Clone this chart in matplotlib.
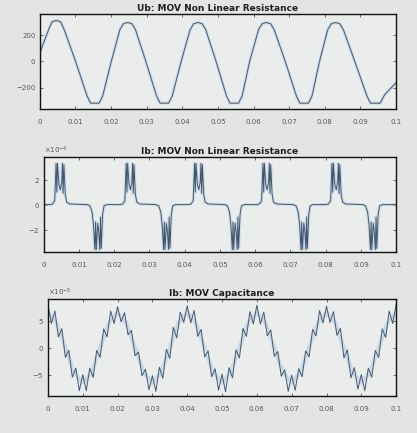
import numpy as np
import matplotlib
matplotlib.use("Agg")
import matplotlib.pyplot as plt

# Ub across the MOV (V): corner points of the clipped sine
ub_t = [0.0000, 0.0025, 0.0035, 0.0047, 0.0059, 0.0069, 0.0101, 0.0133, 0.0143, 0.0167, 0.0177,
        0.0201, 0.0225, 0.0235, 0.0247, 0.0259, 0.0269, 0.0298, 0.0328, 0.0338, 0.0362, 0.0372,
        0.0397, 0.0422, 0.0432, 0.0444, 0.0456, 0.0466, 0.0495, 0.0524, 0.0534, 0.0558, 0.0568,
        0.0589, 0.0614, 0.0624, 0.0636, 0.0648, 0.0658, 0.0689, 0.0720, 0.0730, 0.0754, 0.0764,
        0.0785, 0.0808, 0.0818, 0.0830, 0.0842, 0.0852, 0.0884, 0.0918, 0.0928, 0.0955, 0.0968,
        0.1000]
ub_v = [60, 240, 300, 310, 300, 240, 0, -260, -315, -315, -260,
        0, 240, 285, 295, 285, 240, 0, -260, -315, -315, -260,
        0, 240, 285, 295, 285, 240, 0, -260, -315, -315, -260,
        0, 240, 285, 295, 285, 240, 0, -260, -315, -315, -260,
        0, 240, 285, 295, 285, 240, 0, -260, -315, -315, -250,
        -160]

# Ib through the nonlinear resistance (x1e-4 A): pulse shapes and where they sit
pos_dt = [-0.0030, -0.0022, -0.0016, -0.0012, -0.0010, -0.0008, -0.0004, 0.0000,
          0.0004, 0.0006, 0.0008, 0.0010, 0.0014, 0.0018, 0.0026]
pos_v = [0.0, 0.05, 0.3, 3.3, 1.0, 3.3, 1.6, 1.2, 1.8, 3.3, 0.9, 3.2, 0.8, 0.2, 0.05]
neg_dt = [-0.0030, -0.0022, -0.0016, -0.0012, -0.0008, -0.0006, -0.0004, 0.0000,
          0.0003, 0.0006, 0.0008, 0.0010, 0.0014, 0.0018, 0.0026]
neg_v = [0.0, -0.1, -0.6, -1.6, -3.6, -1.4, -3.6, -1.5, -2.2, -3.6, -1.0, -3.5, -0.8, -0.1, 0.0]
pos_centres = [0.0047, 0.0246, 0.0440, 0.0634, 0.0830]
neg_centres = [0.0153, 0.0348, 0.0543, 0.0738, 0.0935]

# Ib through the MOV capacitance (x1e-5 A), one sample per ms
cap_v = [8.0, 4.5, 6.8, 2.0, 3.5, -1.8, -0.5, -5.5, -3.8, -8.0,
         -5.0, -8.0, -3.8, -5.5, -0.5, -1.8, 3.5, 2.0, 6.8, 4.5,
         7.6, 4.8, 6.5, 2.4, 3.2, -1.5, -0.8, -5.2, -4.0, -7.8,
         -5.2, -8.1, -3.6, -5.7, -0.3, -2.0, 3.8, 1.8, 6.6, 4.7,
         7.8, 4.6, 6.9, 2.1, 3.4, -1.7, -0.6, -5.4, -3.9, -7.9,
         -4.9, -8.2, -3.7, -5.6, -0.4, -1.9, 3.6, 2.1, 6.7, 4.4,
         7.9, 4.4, 6.6, 2.2, 3.3, -1.6, -0.7, -5.3, -4.1, -8.1,
         -5.1, -7.9, -3.9, -5.4, -0.6, -1.7, 3.4, 2.2, 6.9, 4.6,
         7.7, 4.7, 6.7, 2.3, 3.6, -1.9, -0.4, -5.6, -3.7, -7.7,
         -5.0, -8.0, -3.8, -5.5, -0.5, -1.8, 3.5, 1.9, 6.8, 4.5,
         8.0]
# smooth 50 Hz component of the same current, every 2.5 ms
cap_base = [6.5, 4.6, 0, -4.6, -6.5, -4.6, 0, 4.6] * 5 + [6.5]

x_ticks = [0, 0.01, 0.02, 0.03, 0.04, 0.05, 0.06, 0.07, 0.08, 0.09, 0.1]
x_labels = ["0", "0.01", "0.02", "0.03", "0.04", "0.05", "0.06", "0.07", "0.08", "0.09", "0.1"]

# build the pulse train for the resistive current
ir_t = [0.0]
ir_v = [0.0]
pulses = sorted([(c, pos_dt, pos_v) for c in pos_centres] + [(c, neg_dt, neg_v) for c in neg_centres])
for c, dts, vals in pulses:
    for d, v in zip(dts, vals):
        ir_t.append(c + d)
        ir_v.append(v * 1e-4)
ir_t.append(0.1)
ir_v.append(0.0)

cap_t = np.linspace(0, 0.1, len(cap_v))
cap_bt = np.linspace(0, 0.1, len(cap_base))

BG = "#e3e5e5"
FACE = "#ebeded"
HAZE = "#b8cde0"
LINE = "#43586f"

fig = plt.figure(figsize=(4.17, 4.33), dpi=100, facecolor=BG)
rects = [[0.095, 0.748, 0.855, 0.22],
         [0.105, 0.418, 0.845, 0.219],
         [0.115, 0.085, 0.835, 0.224]]
axs = [fig.add_axes(r) for r in rects]

axs[0].plot(ub_t, ub_v, color=HAZE, lw=2.2, alpha=0.6)
axs[0].plot(ub_t, ub_v, color=LINE, lw=0.7)
axs[0].set_ylim(-360, 360)
axs[0].set_yticks([-200, 0, 200])
axs[0].set_title("Ub: MOV Non Linear Resistance", fontsize=6.5, fontweight="bold", color="#1e1e1e", pad=2)

axs[1].plot(ir_t, ir_v, color=HAZE, lw=2.2, alpha=0.6)
axs[1].plot(ir_t, ir_v, color=LINE, lw=0.7)
axs[1].set_ylim(-3.8e-4, 3.8e-4)
axs[1].set_yticks([-2e-4, 0, 2e-4])
axs[1].set_title("Ib: MOV Non Linear Resistance", fontsize=6.5, fontweight="bold", color="#1e1e1e", pad=2)

axs[2].plot(cap_bt, np.array(cap_base) * 1e-5, color=HAZE, lw=3.0, alpha=0.6)
axs[2].plot(cap_t, np.array(cap_v) * 1e-5, color=LINE, lw=0.7)
axs[2].set_ylim(-9e-5, 9e-5)
axs[2].set_yticks([-5e-5, 0, 5e-5])
axs[2].set_title("Ib: MOV Capacitance", fontsize=6.5, fontweight="bold", color="#1e1e1e", pad=2)

for i, ax in enumerate(axs):
    ax.set_facecolor(FACE)
    ax.set_xlim(0, 0.1)
    ax.set_xticks(x_ticks)
    ax.set_xticklabels(x_labels)
    ax.tick_params(direction="in", length=2.5, width=0.6, labelsize=5, colors="#555555",
                   top=True, right=True, pad=7)
    ax.tick_params(axis="y", pad=3)
    for s in ax.spines.values():
        s.set_linewidth(1.0)
        s.set_color("#111111")
    if i > 0:
        ax.ticklabel_format(axis="y", style="sci", scilimits=(0, 0), useMathText=True)
        ax.yaxis.get_offset_text().set_fontsize(5)
        ax.yaxis.get_offset_text().set_color("#555555")

fig.savefig("out.png", dpi=100, facecolor=BG)
